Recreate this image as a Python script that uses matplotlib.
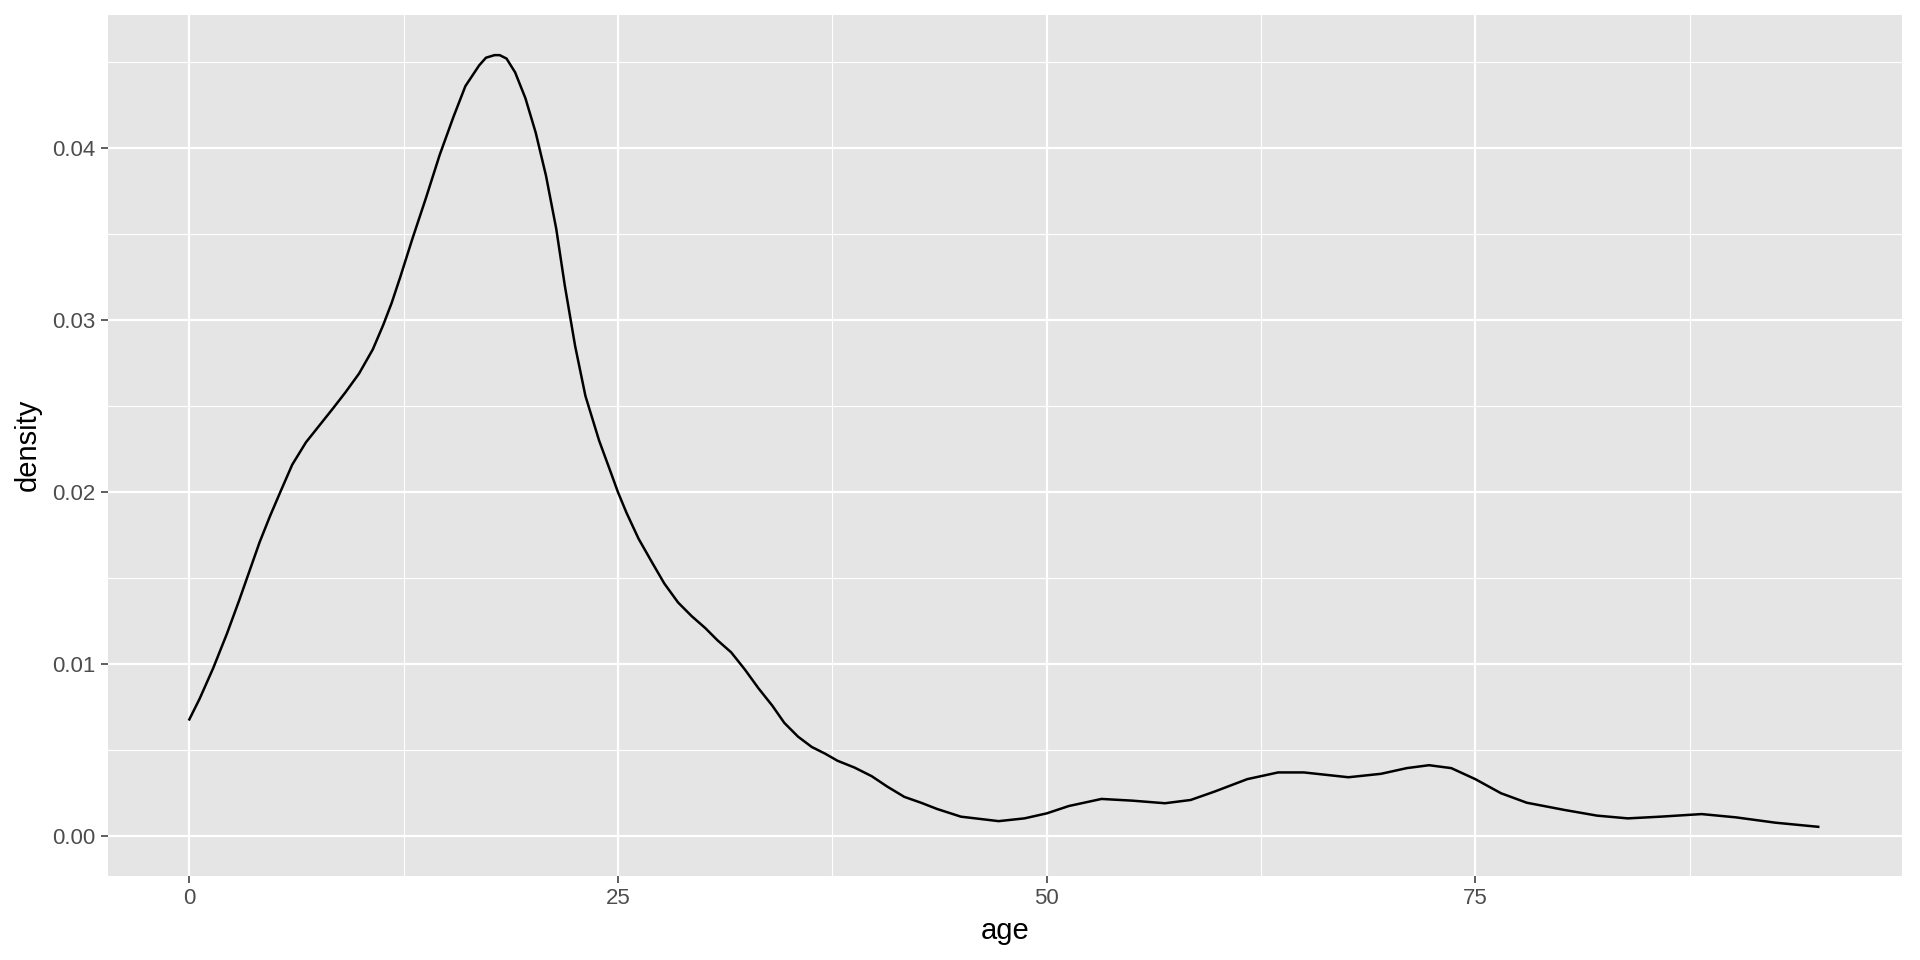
import matplotlib
matplotlib.use("Agg")
import matplotlib.pyplot as plt
from matplotlib.ticker import FixedLocator

# 密度曲线上读取的点 (age, density)
age = [0, 0.6, 1.4, 2.2, 2.9, 3.5, 4.1, 4.7, 5.3, 6.0, 6.8, 7.6, 8.4, 9.1,
       9.9, 10.7, 11.3, 11.8, 12.3, 13.0, 13.8, 14.6, 15.4, 16.1, 16.9, 17.3,
       17.8, 18.1, 18.5, 19.0, 19.6, 20.2, 20.8, 21.4, 21.9, 22.5, 23.1, 23.9,
       24.6, 25.0, 25.5, 26.2, 27.0, 27.7, 28.5, 29.3, 30.1, 30.8, 31.6, 32.4,
       33.2, 34.0, 34.7, 35.5, 36.3, 37.1, 37.8, 38.8, 39.8, 40.7, 41.7, 42.7,
       43.6, 45.0, 47.2, 48.7, 50.0, 51.3, 53.2, 55.0, 56.9, 58.4, 59.8, 61.7,
       63.5, 65.0, 67.6, 69.5, 71.0, 72.3, 73.6, 75.0, 76.5, 78.0, 80.2, 82.1,
       83.9, 85.8, 88.2, 90.2, 92.5, 95.0]
density = [0.0068, 0.0080, 0.0098, 0.0118, 0.0137, 0.0154, 0.0171, 0.0186,
           0.0200, 0.0216, 0.0229, 0.0239, 0.0249, 0.0258, 0.0269, 0.0283,
           0.0297, 0.0310, 0.0325, 0.0347, 0.0371, 0.0396, 0.0418, 0.0436,
           0.0448, 0.04525, 0.0454, 0.0454, 0.0452, 0.0444, 0.0429, 0.0409,
           0.0384, 0.0353, 0.0320, 0.0285, 0.0256, 0.0230, 0.0211, 0.0200,
           0.0188, 0.0173, 0.0159, 0.0147, 0.0136, 0.0128, 0.0121, 0.0114,
           0.0107, 0.0097, 0.0086, 0.0076, 0.0066, 0.0058, 0.0052, 0.0048,
           0.0044, 0.0040, 0.0035, 0.0029, 0.0023, 0.00195, 0.0016, 0.00115,
           0.00089, 0.00105, 0.00134, 0.00177, 0.00218, 0.00208, 0.00193,
           0.00212, 0.00261, 0.00333, 0.00372, 0.00372, 0.00344, 0.00364,
           0.00397, 0.00414, 0.00397, 0.00333, 0.00251, 0.00196, 0.00154,
           0.00121, 0.00105, 0.00115, 0.0013, 0.00111, 0.0008, 0.00056]

x_ticks = [0, 25, 50, 75]
y_ticks = [0.00, 0.01, 0.02, 0.03, 0.04]
y_labels = ["0.00", "0.01", "0.02", "0.03", "0.04"]

plt.rcParams["font.family"] = ["Liberation Sans", "DejaVu Sans"]

fig = plt.figure(figsize=(19.2, 9.6), dpi=100)
ax = fig.add_axes([0.0561, 0.088, 0.9343, 0.8967])
ax.set_facecolor("#E5E5E5")

# ggplot 风格的网格
ax.set_axisbelow(True)
ax.xaxis.set_major_locator(FixedLocator(x_ticks))
ax.xaxis.set_minor_locator(FixedLocator([12.5, 37.5, 62.5, 87.5]))
ax.yaxis.set_major_locator(FixedLocator(y_ticks))
ax.yaxis.set_minor_locator(FixedLocator([0.005, 0.015, 0.025, 0.035, 0.045]))
ax.grid(which="major", color="white", linewidth=1.6)
ax.grid(which="minor", color="white", linewidth=0.8)
ax.set_yticklabels(y_labels)

ax.plot(age, density, color="black", linewidth=1.8, solid_joinstyle="round")

ax.set_xlim(-4.76, 99.86)
ax.set_ylim(-0.00227, 0.04775)

for s in ax.spines.values():
    s.set_visible(False)
ax.tick_params(which="major", length=5, width=1.1, color="#333333",
               labelsize=16, labelcolor="#4D4D4D", pad=4)
ax.tick_params(which="minor", length=0)

ax.set_xlabel("age", fontsize=21, color="black", labelpad=6)
ax.set_ylabel("density", fontsize=21, color="black", labelpad=7)

fig.savefig("out.png", dpi=100)
